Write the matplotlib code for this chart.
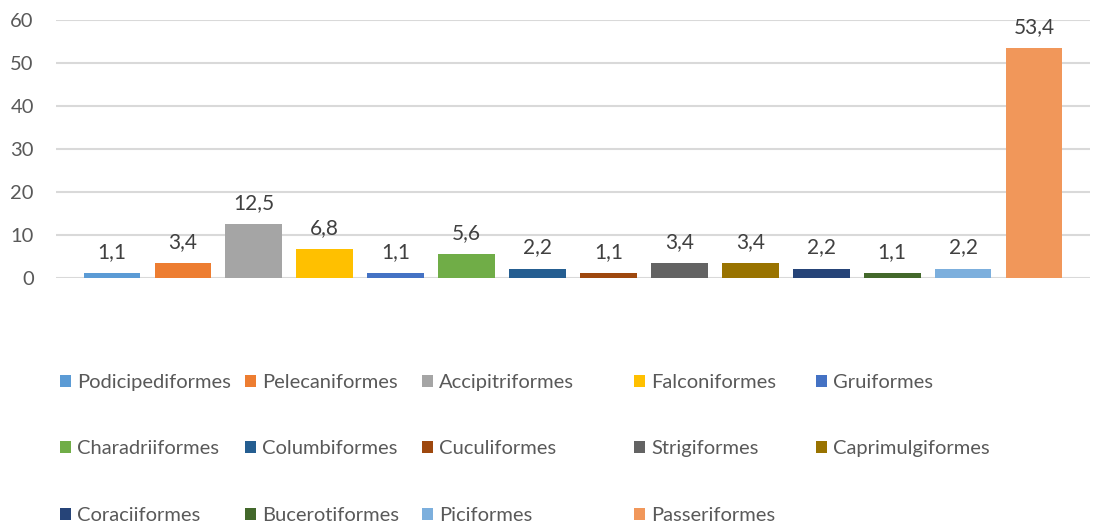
import matplotlib
matplotlib.use("Agg")
import matplotlib.pyplot as plt

categories = ["Podicipediformes", "Pelecaniformes", "Accipitriformes", "Falconiformes",
              "Gruiformes", "Charadriiformes", "Columbiformes", "Cuculiformes",
              "Strigiformes", "Caprimulgiformes", "Coraciiformes", "Bucerotiformes",
              "Piciformes", "Passeriformes"]
values = [1.1, 3.4, 12.5, 6.8, 1.1, 5.6, 2.2, 1.1, 3.4, 3.4, 2.2, 1.1, 2.2, 53.4]
colors = ["#5B9BD5", "#ED7D31", "#A5A5A5", "#FFC000", "#4472C4", "#70AD47", "#255E91",
          "#9E480E", "#636363", "#997300", "#264478", "#43682B", "#7CAFDD", "#F1975A"]
yticks = [0, 10, 20, 30, 40, 50, 60]

plt.rcParams['font.family'] = ['Lato', 'DejaVu Sans']

W, H = 1095, 528
fig = plt.figure(figsize=(W / 100, H / 100), dpi=100)
ax = fig.add_axes([56 / W, 1 - 278 / H, (1090 - 56) / W, (278 - 20) / H])

x = list(range(len(categories)))
bars = ax.bar(x, values, width=0.8, color=colors, zorder=3)
for b, c in zip(bars, categories):
    b.set_label(c)

ax.bar_label(bars, labels=[f"{v:.1f}".replace(".", ",") for v in values],
             padding=8, fontsize=15, color="#404040")

ax.set_ylim(0, 60)
ax.set_xlim(-0.79, 13.79)
ax.set_yticks(yticks)
ax.set_xticks([])
ax.yaxis.grid(True, color="#D9D9D9", linewidth=1.5, zorder=0)
ax.set_axisbelow(True)
for s in ax.spines.values():
    s.set_visible(False)
ax.tick_params(axis="y", length=0, pad=16, labelsize=14.5, labelcolor="#595959")

# legend: 5 columns, row-major order, one legend per column for Excel-like spacing
ncol = 5
col_x = [61, 246, 423, 635, 817]
for c in range(ncol):
    idx = list(range(c, len(categories), ncol))
    leg = fig.legend([bars[i] for i in idx], [categories[i] for i in idx],
                     ncol=1, loc="upper left",
                     bbox_to_anchor=((col_x[c] - 19) / W, 1 - 356 / H), frameon=False,
                     fontsize=14.5, labelcolor="#595959", handlelength=0.55,
                     handleheight=0.55, handletextpad=0.3, labelspacing=2.45)

fig.savefig("out.png", dpi=100)
